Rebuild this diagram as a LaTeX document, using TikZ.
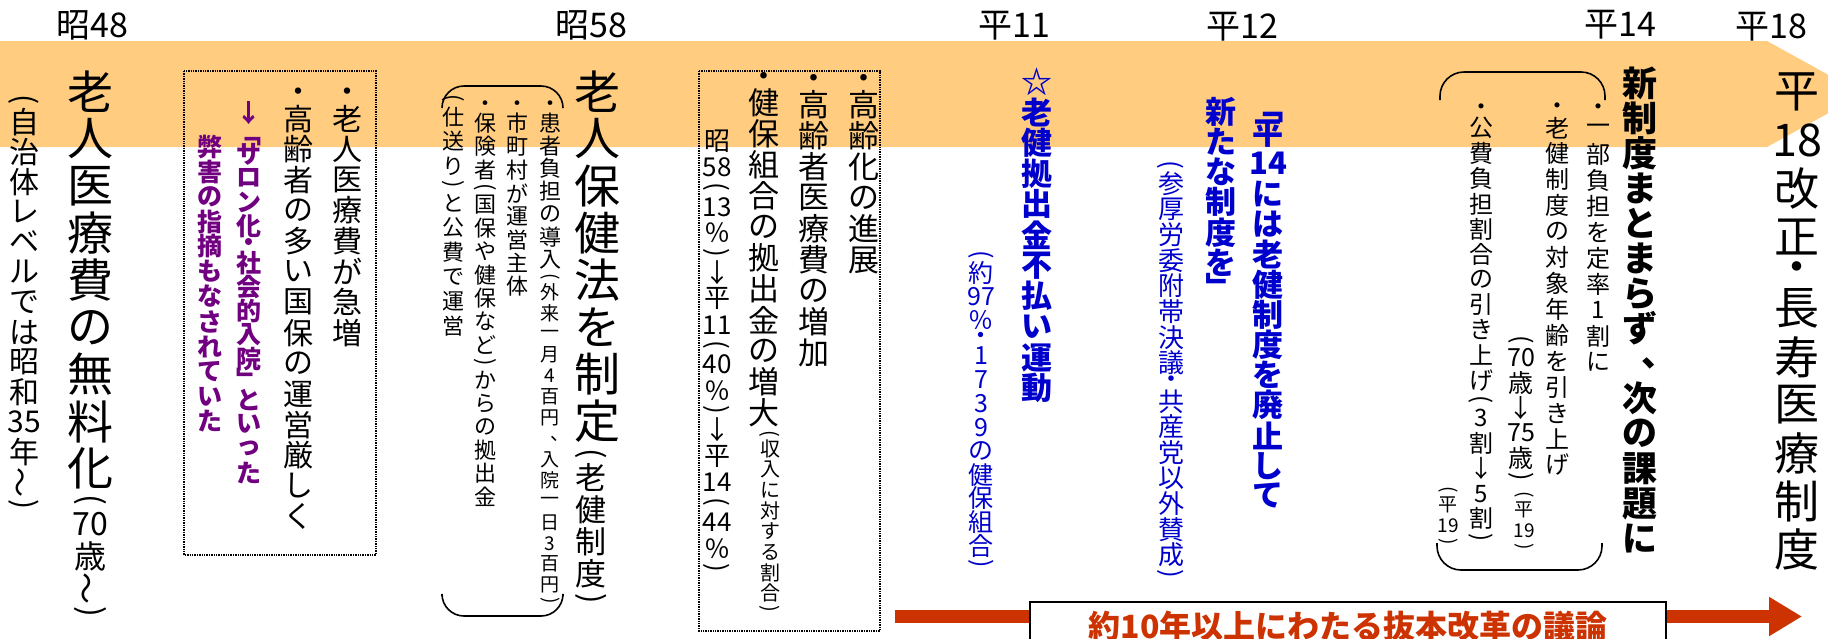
\documentclass[tikz,border=0pt]{standalone}
\usepackage{fontspec}
\setmainfont{Noto Sans CJK JP}
\usepackage{graphicx}
\usetikzlibrary{positioning,arrows.meta}

\definecolor{bandorange}{RGB}{255,204,128}
\definecolor{barred}{RGB}{204,51,0}
\definecolor{noteblue}{RGB}{0,0,204}
\definecolor{notepurple}{RGB}{112,0,128}

% vertical text: one cell per item, {..} keeps digits together
\ExplSyntaxOn
\dim_new:N \l_tate_pitch_dim
\cs_new_protected:Npn \tate_cell:nn #1#2
  {
    \vbox_to_ht:nn { #1 \l_tate_pitch_dim }
      { \vss \hbox_to_wd:nn { 0pt } { \hss #2 \hss } \vss }
  }
\cs_new_protected:Npn \tate_turn:n #1
  {
    \rotatebox[origin=c]{-90}
      { \makebox[1em]{ \rule[-0.12em]{0pt}{1em} \smash{#1} } }
  }
\NewDocumentCommand \tate { O{1} m }
  {
    \vbox:n
      {
        \offinterlineskip
        \dim_set:Nn \l_tate_pitch_dim { #1 em }
        \tl_map_inline:nn {#2}
          {
            \str_case:nnF {##1}
              {
                { ( } { \tate_cell:nn { 0.5 } { \rotatebox{-90}{(} } }
                { ) } { \tate_cell:nn { 0.5 } { \rotatebox{-90}{)} } }
                { 「 } { \tate_cell:nn { 0.7 } { \tate_turn:n {「} } }
                { 」 } { \tate_cell:nn { 0.7 } { \tate_turn:n {」} } }
                { ・ } { \tate_cell:nn { 0.5 } { ・ } }
                { ～ } { \tate_cell:nn { 1 } { \rotatebox{90}{～} } }
                { 、 } { \tate_cell:nn { 1 } { \kern 1.06em 、 } }
              }
              { \tate_cell:nn { 1 } {##1} }
          }
      }
  }
\ExplSyntaxOff

\begin{document}
\begin{tikzpicture}
[x=1pt, y=-1pt,
    col/.style={anchor=north, inner sep=0pt, outer sep=0pt},
    fs/.style={font=\fontsize{#1}{#1}\selectfont},
    bfs/.style={font=\fontsize{#1}{#1}\selectfont\bfseries},
    year/.style={font=\fontsize{34}{34}\selectfont, inner sep=0pt},
    note/.style={text=noteblue},
    remark/.style={text=notepurple},
    dotbox/.style={densely dotted, line width=1.4pt},
    paren/.style={line width=1.6pt},
    bar/.style={barred, line width=13pt, -{Triangle[length=33pt,width=37pt]}},
    debatebox/.style={draw=black, line width=1.5pt, fill=white, minimum width=636pt,
        anchor=north, inner xsep=0pt, inner ysep=9pt, text=barred,
        font=\fontsize{32}{32}\selectfont\bfseries},
    ]
    \useasboundingbox (0,0) rectangle (1828,638);
    \clip (0,0) rectangle (1828,638);

    % time band
    \fill[bandorange] (0,41) -- (1767,41) -- (1863,94) -- (1767,147) -- (0,147) -- cycle;

    \node[year] (s48) at (92,25) {昭48};
    \node[year] (s58) at (591,25) {昭58};
    \node[year] (h11) at (1014,26) {平11};
    \node[year] (h12) at (1242,27) {平12};
    \node[year] (h14) at (1620,25) {平14};
    \node[year] (h18) at (1771,27) {平18};

    % S48
    \node[col, fs=30] (local) at (24,92) {\tate{(自治体レベルでは昭和{35}年～)}};
    \node[col, fs=46] (free) at (90,68) {\tate[1.025]{老人医療費の無料化}};
    \node[col, fs=32] (freeage) [below=0pt of free] {\tate{({70}歳～)}};

    \draw[dotbox] (184,71) rectangle (376,555);
    \node[col, fs=30] (rise) at (347,88) {\tate[1.02]{・老人医療費が急増}};
    \node[col, fs=30] (strain) at (298,88) {\tate[1.02]{・高齢者の多い国保の運営厳しく}};
    \node[col, bfs=25, remark] (salon) at (249,101) {\tate[0.965]{↓「サロン化・社会的入院」といった}};
    \node[col, bfs=25, remark] (harm) at (210,134) {\tate{弊害の指摘もなされていた}};

    % S58
    \node[col, fs=46] (enact) at (597,68) {\tate[1.025]{老人保健法を制定}};
    \node[col, fs=31] (enactsub) [below=0pt of enact, xshift=-6pt] {\tate[1.04]{(老健制度)}};

    \draw[paren, rounded corners=22pt] (442,108) -- (442,86) -- (563,86) -- (563,108);
    \draw[paren, rounded corners=22pt] (442,596) -- (442,616) -- (563,616) -- (563,596);
    \node[col, fs=22] (copay) at (550,100) {\tate[1.04]{・患者負担の導入}};
    \node[col, fs=19] (copaysub) [below=0pt of copay] {\tate[1.1]{(外来一月4百円、入院一日3百円)}};
    \node[col, fs=22] (municipal) at (517,100) {\tate[1.06]{・市町村が運営主体}};
    \node[col, fs=22] (insurer) at (485,100) {\tate[1.06]{・保険者(国保や健保など)からの拠出金}};
    \node[col, fs=22] (public) at (453,92) {\tate[1.12]{(仕送り)と公費で運営}};

    \draw[dotbox] (699,71) rectangle (880,631);
    \node[col, fs=31] (aging) at (864,74) {\tate{・高齢化の進展}};
    \node[col, fs=31] (elderly) at (814,74) {\tate{・高齢者医療費の増加}};
    \node[col, fs=31] (levy) at (764,72) {\tate{・健保組合の拠出金の増大}};
    \node[col, fs=20] (levysub) [below=0pt of levy, xshift=6pt] {\tate[1.03]{(収入に対する割合)}};
    \node[col, fs=26] (ratio) at (717,128) {\tate[1.01]{昭{58}({13}％)↓平{11}({40}％)↓平{14}({44}％)}};

    % H11 - H12
    \node[col, bfs=31, note] (boycott) at (1037,66) {\tate[0.99]{☆老健拠出金不払い運動}};
    \node[col, fs=25, note] (boycottsub) at (981,249) {\tate[0.95]{(約{97}％・1739の健保組合)}};
    \node[col, bfs=31, note] (abolish) at (1268,97) {\tate[0.975]{「平{14}には老健制度を廃止して}};
    \node[col, bfs=31, note] (newsys) at (1221,97) {\tate[0.97]{新たな制度を」}};
    \node[col, fs=26, note] (resolution) at (1171,158) {\tate[0.985]{(参厚労委附帯決議・共産党以外賛成)}};

    % H14
    \draw[paren, rounded corners=24pt] (1440,100) -- (1440,72) -- (1605,72) -- (1605,100);
    \draw[paren, rounded corners=24pt] (1437,543) -- (1437,570) -- (1602,570) -- (1602,543);
    \node[col, bfs=35] (pending) at (1640,66) {\tate{新制度まとまらず、次の課題に}};
    \node[col, fs=24] (copay2) at (1598,103) {\tate[1.08]{・一部負担を定率1割に}};
    \node[col, fs=24] (agecap) at (1557,102) {\tate[1.08]{・老健制度の対象年齢を引き上げ}};
    \node[col, fs=25] (agecapsub) at (1521,333) {\tate{({70}歳↓{75}歳)}};
    \node[col, fs=19] (agecapyr) [below=6pt of agecapsub, xshift=3pt] {\tate[1.1]{(平{19})}};
    \node[col, fs=24] (share) at (1481,103) {\tate[1.05]{・公費負担割合の引き上げ(3割↓5割)}};
    \node[col, fs=19] (shareyr) at (1448,484) {\tate[1.1]{(平{19})}};

    % H18
    \node[col, fs=45] (reform) at (1797,68) {\tate[1.07]{平{18}改正・長寿医療制度}};

    % reform debate
    \coordinate (barstart) at (895,616.5);
    \coordinate (barend) at (1802,616.5);
    \draw[bar] (barstart) -- (barend);
    \node[debatebox] (debate) at (1348,601) {約10年以上にわたる抜本改革の議論};

\end{tikzpicture}
\end{document}
